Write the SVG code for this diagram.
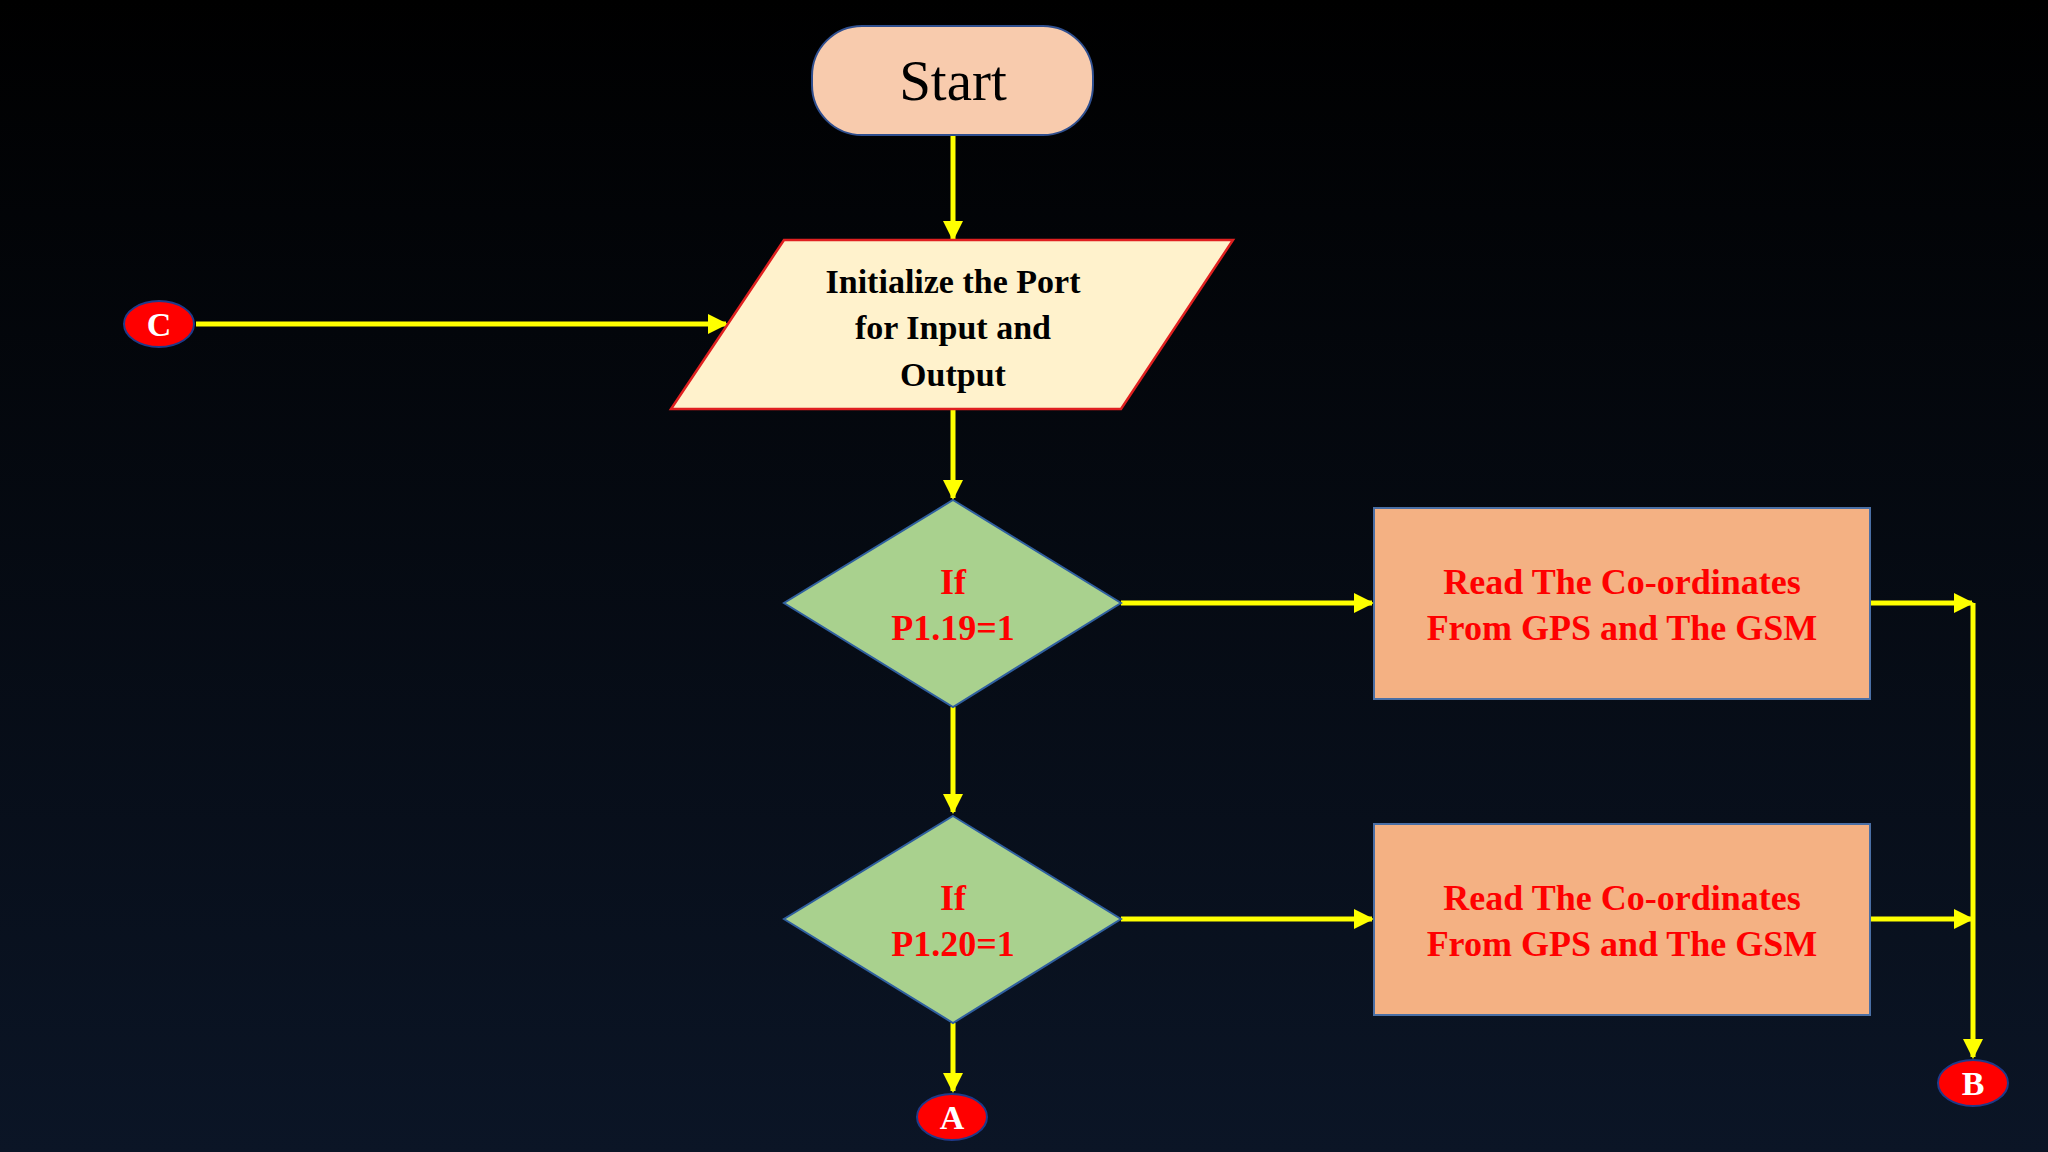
<svg xmlns="http://www.w3.org/2000/svg" width="2048" height="1152" viewBox="0 0 2048 1152">
<defs>
<linearGradient id="bg" x1="0" y1="0" x2="0" y2="1"><stop offset="0" stop-color="#000000"/><stop offset="1" stop-color="#0b1526"/></linearGradient>
<marker id="ah" viewBox="0 0 10 10" refX="9" refY="5" markerWidth="4" markerHeight="4" orient="auto" markerUnits="strokeWidth"><path d="M0,0 L10,5 L0,10 z" fill="#ffff00"/></marker>
</defs>
<style>
.c{stroke:#ffff00;stroke-width:5;fill:none}
.a{marker-end:url(#ah)}
.t{font-family:"Liberation Serif",serif;font-weight:bold;text-anchor:middle}
.r{fill:#ff0000;font-size:36px}
.k{fill:#000;font-size:34px}
.con{fill:#ff0000;stroke:#1f3a8a;stroke-width:2}
.w{fill:#fff;font-size:34px}
</style>
<rect width="2048" height="1152" fill="url(#bg)"/>
<g id="connectors">
<line class="c a" x1="953" y1="135" x2="953" y2="239"/>
<line class="c a" x1="196" y1="324" x2="726" y2="324"/>
<line class="c a" x1="953" y1="409" x2="953" y2="498"/>
<line class="c a" x1="1121" y1="603" x2="1372" y2="603"/>
<line class="c a" x1="1870" y1="603" x2="1972" y2="603"/>
<line class="c a" x1="953" y1="707" x2="953" y2="812"/>
<line class="c a" x1="1121" y1="919" x2="1372" y2="919"/>
<line class="c a" x1="1870" y1="919" x2="1972" y2="919"/>
<line class="c a" x1="1973" y1="603" x2="1973" y2="1057"/>
<line class="c a" x1="953" y1="1023" x2="953" y2="1091"/>
</g>
<g id="start"><rect x="812" y="26" width="281" height="109" rx="50" fill="#f8cbad" stroke="#2f4f8f" stroke-width="2"/><text class="t" x="953" y="100" font-size="57" font-weight="normal" style="font-weight:normal">Start</text></g>
<g id="init"><polygon points="784,240 1233,240 1121,409 671,409" fill="#fff2cc" stroke="#e02020" stroke-width="2.5"/>
<text class="t k" x="953" y="293">Initialize the Port</text><text class="t k" x="953" y="339">for Input and</text><text class="t k" x="953" y="386">Output</text></g>
<g id="c"><ellipse class="con" cx="159" cy="324" rx="35" ry="23"/><text class="t w" x="159" y="336">C</text></g>
<g id="d1"><polygon points="953,500 1121,603 953,707 784,603" fill="#a9d18e" stroke="#2f5f9f" stroke-width="2"/><text class="t r" x="953" y="594">If</text><text class="t r" x="953" y="640">P1.19=1</text></g>
<g id="r1"><rect x="1374" y="508" width="496" height="191" fill="#f4b183" stroke="#4a6fa5" stroke-width="2"/><text class="t r" x="1622" y="594">Read The Co-ordinates</text><text class="t r" x="1622" y="640">From GPS and The GSM</text></g>
<g id="d2"><polygon points="953,816 1121,919 953,1023 784,919" fill="#a9d18e" stroke="#2f5f9f" stroke-width="2"/><text class="t r" x="953" y="910">If</text><text class="t r" x="953" y="956">P1.20=1</text></g>
<g id="r2"><rect x="1374" y="824" width="496" height="191" fill="#f4b183" stroke="#4a6fa5" stroke-width="2"/><text class="t r" x="1622" y="910">Read The Co-ordinates</text><text class="t r" x="1622" y="956">From GPS and The GSM</text></g>
<g id="b"><ellipse class="con" cx="1973" cy="1083" rx="35" ry="23"/><text class="t w" x="1973" y="1095">B</text></g>
<g id="a"><ellipse class="con" cx="952" cy="1117" rx="35" ry="23"/><text class="t w" x="952" y="1129">A</text></g>
</svg>
